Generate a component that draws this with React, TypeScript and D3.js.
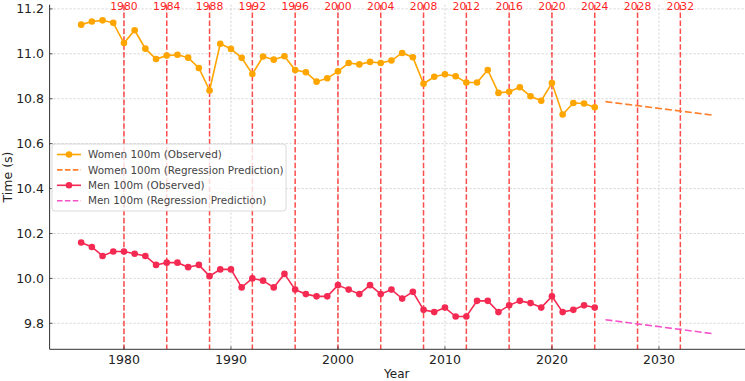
import React from "react";
import * as d3 from "d3";

const years: number[] = d3.range(1976, 2025);
const womenObserved: number[] = [
  11.13, 11.144, 11.149, 11.138, 11.048, 11.105, 11.023, 10.977, 10.992, 10.996,
  10.983, 10.937, 10.837, 11.045, 11.022, 10.982, 10.91, 10.988, 10.974, 10.989,
  10.928, 10.918, 10.876, 10.891, 10.922, 10.959, 10.953, 10.964, 10.959, 10.97,
  11.004, 10.985, 10.867, 10.898, 10.909, 10.9, 10.872, 10.872, 10.928, 10.826,
  10.831, 10.851, 10.811, 10.791, 10.87, 10.73, 10.781, 10.779, 10.762,
];
const menObserved: number[] = [
  10.16, 10.14, 10.1, 10.12, 10.12, 10.11, 10.1, 10.06, 10.07, 10.07,
  10.05, 10.06, 10.01, 10.04, 10.04, 9.96, 10.0, 9.99, 9.96, 10.02,
  9.95, 9.93, 9.92, 9.92, 9.97, 9.95, 9.93, 9.97, 9.93, 9.95,
  9.91, 9.94, 9.86, 9.85, 9.87, 9.83, 9.83, 9.9, 9.9, 9.85,
  9.88, 9.9, 9.89, 9.87, 9.92, 9.85, 9.86, 9.88, 9.87,
];
const predYears: number[] = [2025, 2035];
const womenPred: number[] = [10.787, 10.727];
const menPred: number[] = [9.816, 9.754];
const olympicYears: number[] = d3.range(1980, 2033, 4);
const xTicks: number[] = [1980, 1990, 2000, 2010, 2020, 2030];
const yTicks: number[] = [9.8, 10.0, 10.2, 10.4, 10.6, 10.8, 11.0, 11.2];
const legendLabels: string[] = [
  "Women 100m (Observed)",
  "Women 100m (Regression Prediction)",
  "Men 100m (Observed)",
  "Men 100m (Regression Prediction)",
];

const W = 745;
const H = 381;
const left = 49.6;
const right = 744;
const top = 4.7;
const bottom = 349.3;

const C_W = "#FFA500";
const C_WP = "#FF7F2A";
const C_M = "#F42A52";
const C_MP = "#F553CA";
const FONT = "'DejaVu Sans', sans-serif";

export default function App() {
  const allX = [...years, ...predYears];
  const allY = [...womenObserved, ...menObserved, ...womenPred, ...menPred];
  const [x0, x1] = d3.extent(allX) as [number, number];
  const [y0, y1] = d3.extent(allY) as [number, number];
  const xm = (x1 - x0) * 0.05;
  const ym = (y1 - y0) * 0.05;
  const x = d3.scaleLinear().domain([x0 - xm, x1 + xm]).range([left, right]);
  const y = d3.scaleLinear().domain([y0 - ym, y1 + ym]).range([bottom, top]);

  const line = d3
    .line<[number, number]>()
    .x((d) => x(d[0]))
    .y((d) => y(d[1]));

  const wData: [number, number][] = years.map((yr, i) => [yr, womenObserved[i]]);
  const mData: [number, number][] = years.map((yr, i) => [yr, menObserved[i]]);
  const wp: [number, number][] = predYears.map((yr, i) => [yr, womenPred[i]]);
  const mp: [number, number][] = predYears.map((yr, i) => [yr, menPred[i]]);

  const legendX = 52;
  const legendY = 144;
  const rowH = 15.4;
  const legendStyles = [
    { color: C_W, dash: null, marker: true },
    { color: C_WP, dash: "5.5,2.4", marker: false },
    { color: C_M, dash: null, marker: true },
    { color: C_MP, dash: "5.5,2.4", marker: false },
  ];

  return (
    <svg
      width={W}
      height={H}
      style={{ position: "absolute", left: 0, top: 0, background: "#fff" }}
      fontFamily={FONT}
    >
      <rect x={0} y={0} width={W} height={H} fill="#fff" />
      {/* grid */}
      {xTicks.map((t) => (
        <line key={"gx" + t} x1={x(t)} x2={x(t)} y1={top} y2={bottom}
          stroke="#c8c8c8" strokeWidth={0.8} strokeDasharray="2,2" />
      ))}
      {yTicks.map((t) => (
        <line key={"gy" + t} x1={left} x2={right} y1={y(t)} y2={y(t)}
          stroke="#c8c8c8" strokeWidth={0.8} strokeDasharray="2,2" />
      ))}
      {/* olympic lines */}
      {olympicYears.map((yr) => (
        <g key={"o" + yr}>
          <line x1={x(yr)} x2={x(yr)} y1={top} y2={bottom}
            stroke="#FF0000" strokeOpacity={0.7} strokeWidth={1.5} strokeDasharray="5.5,2.4" />
          <text x={x(yr)} y={10} textAnchor="middle" fontSize={10.8} fill="#FF0000" fillOpacity={0.9}>
            {yr}
          </text>
        </g>
      ))}
      {/* series */}
      <path d={line(wData) || ""} fill="none" stroke={C_W} strokeWidth={1.6} />
      {wData.map((d, i) => (
        <circle key={"wc" + i} cx={x(d[0])} cy={y(d[1])} r={3.3} fill={C_W} />
      ))}
      <path d={line(wp) || ""} fill="none" stroke={C_WP} strokeWidth={1.6} strokeDasharray="7,3" />
      <path d={line(mData) || ""} fill="none" stroke={C_M} strokeWidth={1.6} />
      {mData.map((d, i) => (
        <circle key={"mc" + i} cx={x(d[0])} cy={y(d[1])} r={3.3} fill={C_M} />
      ))}
      <path d={line(mp) || ""} fill="none" stroke={C_MP} strokeWidth={1.6} strokeDasharray="7,3" />

      {/* axes */}
      <line x1={left} x2={left} y1={top} y2={bottom} stroke="#333" strokeWidth={1} />
      <line x1={left} x2={right + 1} y1={bottom} y2={bottom} stroke="#333" strokeWidth={1} />
      {xTicks.map((t) => (
        <g key={"xt" + t}>
          <line x1={x(t)} x2={x(t)} y1={bottom} y2={bottom - 3} stroke="#333" strokeWidth={0.8} />
          <text x={x(t)} y={364} textAnchor="middle" fontSize={12.5} fill="#222">{t}</text>
        </g>
      ))}
      {yTicks.map((t) => (
        <g key={"yt" + t}>
          <line x1={left} x2={left + 3} y1={y(t)} y2={y(t)} stroke="#333" strokeWidth={0.8} />
          <text x={44} y={y(t)} dy="0.36em" textAnchor="end" fontSize={12.5} fill="#222">
            {d3.format(".1f")(t)}
          </text>
        </g>
      ))}
      <text x={(left + right) / 2} y={378} textAnchor="middle" fontSize={12} fill="#222">Year</text>
      <text transform={`translate(12,${(top + bottom) / 2}) rotate(-90)`} textAnchor="middle" fontSize={12.5} fill="#222">
        Time (s)
      </text>

      {/* legend */}
      <rect x={legendX} y={legendY} width={234} height={67} rx={3} fill="#fff" fillOpacity={0.8}
        stroke="#d0d0d0" strokeWidth={0.8} />
      {legendLabels.map((lab, i) => {
        const cy = legendY + 10.5 + i * rowH;
        const st = legendStyles[i];
        return (
          <g key={"lg" + i}>
            <line x1={57} x2={81} y1={cy} y2={cy} stroke={st.color} strokeWidth={1.6}
              strokeDasharray={st.dash || undefined} />
            {st.marker && <circle cx={69} cy={cy} r={3.3} fill={st.color} />}
            <text x={88} y={cy} dy="0.35em" fontSize={10.4} fill="#444">{lab}</text>
          </g>
        );
      })}
    </svg>
  );
}
